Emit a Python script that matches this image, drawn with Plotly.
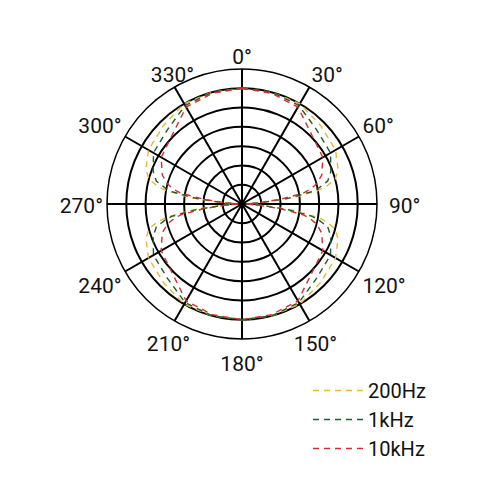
import plotly.graph_objects as go

# angles in degrees (0 at top, clockwise)
angles = [0, 15, 30, 45, 60, 70, 75, 78, 80, 83, 86, 90,
          94, 97, 100, 102, 105, 110, 120, 135, 150, 165, 180,
          195, 210, 225, 240, 250, 255, 258, 260, 263, 266, 270,
          274, 277, 280, 282, 285, 290, 300, 315, 330, 345, 360]

# response in dB (0 dB = front/back maximum)
level_200hz = [0, 0, 0, -1.2, -2.0, -3.5, -5.0, -7.5, -10.0, -17.0, -24.0, -29.0,
               -24.0, -17.0, -10.0, -7.5, -5.0, -3.5, -2.0, -1.2, 0, 0, 0,
               0, 0, -1.2, -2.0, -3.5, -5.0, -7.5, -10.0, -17.0, -24.0, -29.0,
               -24.0, -17.0, -10.0, -7.5, -5.0, -3.5, -2.0, -1.2, 0, 0, 0]
level_1khz = [0, 0, -0.5, -2.7, -3.5, -5.5, -7.0, -9.5, -11.5, -18.0, -25.0, -29.0,
              -25.0, -18.0, -11.5, -9.5, -7.0, -5.5, -3.5, -2.7, -0.5, 0, 0,
              0, -0.5, -2.7, -3.5, -5.5, -7.0, -9.5, -11.5, -18.0, -25.0, -29.0,
              -25.0, -18.0, -11.5, -9.5, -7.0, -5.5, -3.5, -2.7, -0.5, 0, 0]
level_10khz = [0, -0.3, -1.0, -4.5, -5.8, -8.0, -10.0, -12.0, -14.0, -20.0, -26.0, -29.0,
               -26.0, -20.0, -14.0, -12.0, -10.0, -8.0, -5.8, -4.5, -1.0, -0.3, 0,
               -0.3, -1.0, -4.5, -5.8, -8.0, -10.0, -12.0, -14.0, -20.0, -26.0, -29.0,
               -26.0, -20.0, -14.0, -12.0, -10.0, -8.0, -5.8, -4.5, -1.0, -0.3, 0]

# angular tick labels: the upper ones hug the ring, the lower ones sit a bit further out
upper_angles = [0, 30, 60, 120, 240, 270, 300, 330]
upper_pos = ["top center", "top right", "top right", "bottom right",
             "bottom left", "middle left", "top left", "top center"]
lower_angles = [90, 150, 180, 210]
lower_pos = ["middle right", "bottom center", "bottom center", "bottom center"]

series = [
    ("200Hz", level_200hz, "#e8b830"),
    ("1kHz", level_1khz, "#1d5e2a"),
    ("10kHz", level_10khz, "#d03030"),
]

fig = go.Figure()
for name, vals, color in series:
    fig.add_trace(
        go.Scatterpolar(
            r=vals,
            theta=angles,
            mode="lines",
            name=name,
            legendgroup=name,
            line=dict(color=color, width=1.4, dash="6px,5px"),
        )
    )

label_font = dict(size=21, color="#111")
for subplot, ang, pos in [("polar2", upper_angles, upper_pos),
                          ("polar3", lower_angles, lower_pos)]:
    fig.add_trace(
        go.Scatterpolar(
            r=[1] * len(ang),
            theta=ang,
            mode="text",
            text=[f"{a}°" for a in ang],
            textposition=pos,
            textfont=label_font,
            cliponaxis=False,
            showlegend=False,
            hoverinfo="skip",
            subplot=subplot,
        )
    )

label_polar = dict(
    bgcolor="rgba(0,0,0,0)",
    angularaxis=dict(rotation=90, direction="clockwise", visible=False),
    radialaxis=dict(range=[0, 1], visible=False),
)

fig.update_layout(
    width=500,
    height=500,
    margin=dict(l=0, r=0, t=0, b=0),
    paper_bgcolor="white",
    font=dict(family="Roboto, Liberation Sans, sans-serif", size=20, color="#111"),
    polar=dict(
        domain=dict(x=[0.198, 0.738], y=[0.338, 0.878]),
        bgcolor="white",
        angularaxis=dict(
            rotation=90,
            direction="clockwise",
            dtick=30,
            showticklabels=False,
            ticks="",
            showline=True,
            linecolor="black",
            linewidth=1.5,
            gridcolor="black",
            gridwidth=1.5,
        ),
        radialaxis=dict(
            range=[-30, 5],
            dtick=5,
            tick0=-30,
            showticklabels=False,
            ticks="",
            showline=False,
            gridcolor="black",
            gridwidth=1.5,
        ),
    ),
    polar2=dict(domain=dict(x=[0.19, 0.746], y=[0.322, 0.878]), **label_polar),
    polar3=dict(domain=dict(x=[0.174, 0.762], y=[0.306, 0.894]), **label_polar),
    showlegend=True,
    legend=dict(
        x=0.6,
        y=0.274,
        xanchor="left",
        yanchor="top",
        traceorder="grouped",
        tracegroupgap=0,
        itemwidth=50,
        bgcolor="rgba(0,0,0,0)",
        font=dict(size=20),
    ),
)

fig.write_html("out.html")
